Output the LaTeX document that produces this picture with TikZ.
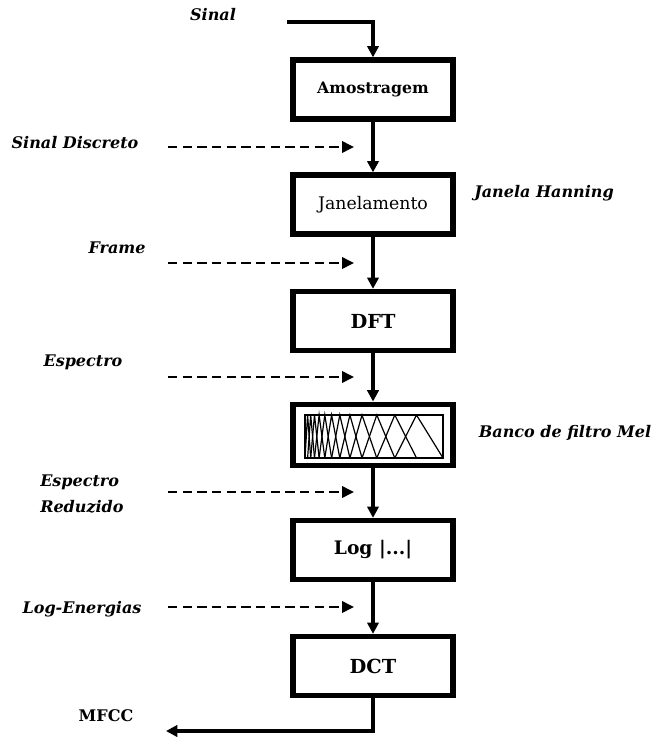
\documentclass[tikz,border=0pt]{standalone}
\usepackage{fontspec}
\setmainfont{DejaVu Serif}
\usetikzlibrary{arrows.meta}

\begin{document}
\begin{tikzpicture}[x=0.75pt,y=-0.75pt,
  block/.style={draw=black,line width=4.2pt,fill=white,minimum width=120pt,
    minimum height=44pt,inner sep=0pt,font=\bfseries\fontsize{11.8}{14}\selectfont},
  bigblock/.style={block,font=\bfseries\fontsize{14.5}{16}\selectfont},
  conn/.style={line width=2.3pt,-{Triangle[length=8.5pt,width=8.5pt]}},
  hint/.style={line width=1.9pt,dash pattern=on 7pt off 4pt,
    -{Triangle[length=9pt,width=8.5pt]}},
  tag/.style={font=\bfseries\itshape\fontsize{12}{19}\selectfont,inner sep=0pt,align=left},
]
\useasboundingbox (0,0) rectangle (651,742);

% processing chain
\node[block]    (amo) at (373,89.5)  {Amostragem};
\node[block,font=\fontsize{13}{14}\selectfont] (jan) at (373,204.5) {Janelamento};
\node[bigblock] (dft) at (373,321)   {DFT};
\node[block,minimum height=46pt] (mel) at (373,435) {};
\node[bigblock,font=\bfseries\fontsize{14}{16}\selectfont] (log) at (373,550) {Log |...|};
\node[bigblock] (dct) at (373,666)   {DCT};

% mel filter bank sketch
\coordinate (fbl) at (305,458);
\coordinate (fbr) at (443,415);
\draw[line width=1.1pt] (fbl) rectangle (fbr);
\begin{scope}[line width=0.9pt,line join=miter]
  \foreach \a/\b/\c in {305/307.6/310.7, 307.6/310.7/314.5, 310.7/314.5/319.1,
      314.5/319.1/324.8, 319.1/324.8/331.6, 324.8/331.6/339.8, 331.6/339.8/349.9,
      339.8/349.9/362.0, 349.9/362.0/376.8, 362.0/376.8/394.8,
      376.8/394.8/416.5, 394.8/416.5/443}
    \draw (\a,458) -- (\b,415) -- (\c,458);
\end{scope}

% signal in and out
\coordinate (sin) at (287,22);
\coordinate (sout) at (166,731);
\draw[conn] (sin) -| (amo.north);
\draw[conn] (amo) -- (jan);
\draw[conn] (jan) -- (dft);
\draw[conn] (dft) -- (mel);
\draw[conn] (mel) -- (log);
\draw[conn] (log) -- (dct);
\draw[conn] (dct.south) |- (sout);

% intermediate data hints
\foreach \i/\y in {1/147,2/263,3/377,4/492,5/607}{
  \coordinate (hs\i) at (168,\y);
  \coordinate (he\i) at (354,\y);
  \draw[hint] (hs\i) -- (he\i);
}

% labels
\node[tag] (lsinal) at (213,15)  {Sinal};
\node[tag] (ldisc)  at (75,143)  {Sinal Discreto};
\node[tag] (lframe) at (117,248) {Frame};
\node[tag] (lesp)   at (83,362)  {Espectro};
\node[tag,anchor=west] (lred) at (40,494) {Espectro\\Reduzido};
\node[tag] (llog)   at (82,609)  {Log-Energias};
\node[tag] (lhan)   at (544,193) {Janela Hanning};
\node[tag] (lmel)   at (565,433) {Banco de filtro Mel};
\node[font=\bfseries\fontsize{12}{14}\selectfont,inner sep=0pt] (lmfcc) at (106,716) {MFCC};
\end{tikzpicture}
\end{document}
